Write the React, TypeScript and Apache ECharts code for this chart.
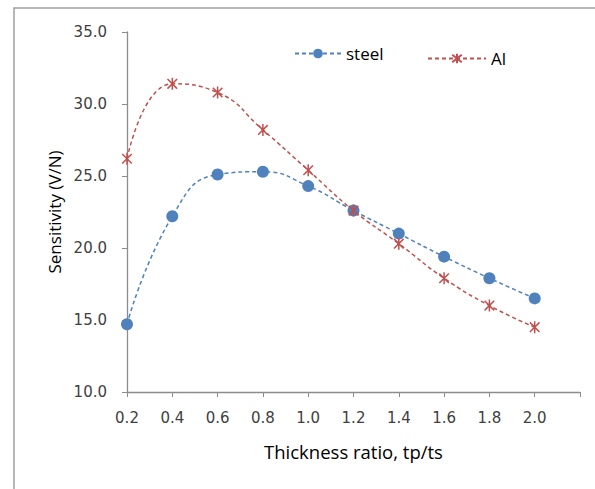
import React, { useEffect, useRef } from "react";
import * as echarts from "echarts";

const xValues = [0.2, 0.4, 0.6, 0.8, 1.0, 1.2, 1.4, 1.6, 1.8, 2.0];
const steelValues = [14.7, 22.2, 25.1, 25.3, 24.3, 22.6, 21.0, 19.4, 17.9, 16.5];
const alValues = [26.2, 31.4, 30.8, 28.2, 25.4, 22.6, 20.3, 17.9, 16.0, 14.5];

const STEEL = "#4F81BD";
const AL = "#C0504D";
const FONT = "'Open Sans', 'Liberation Sans', sans-serif";
const TICKFONT = "'DejaVu Sans', 'Open Sans', sans-serif";

export default function App() {
  const ref = useRef<HTMLDivElement>(null);
  useEffect(() => {
    if (!ref.current) return;
    const chart = echarts.init(ref.current, undefined, { renderer: "svg" });
    const star = "path://M0,-1L0,1M-0.8,-0.8L0.8,0.8M-0.8,0.8L0.8,-0.8";
    const legendText = { fontSize: 17, color: "#000", fontFamily: FONT };
    chart.setOption({
      animation: false,
      backgroundColor: "#fff",
      textStyle: { fontFamily: FONT },
      graphic: [
        {
          type: "rect",
          shape: { x: 14, y: 8, width: 700, height: 700 },
          style: { fill: "none", stroke: "#a0a0a0", lineWidth: 1.5 },
          silent: true,
        },
      ],
      legend: [
        {
          top: 45,
          left: 294,
          padding: 0,
          itemWidth: 46,
          itemHeight: 12,
          textStyle: legendText,
          data: ["steel"],
        },
        {
          top: 50,
          left: 427,
          padding: 0,
          itemWidth: 58,
          itemHeight: 12,
          textStyle: legendText,
          data: ["Al"],
        },
      ],
      grid: { left: 127, top: 32, right: 15, bottom: 97, containLabel: false },
      xAxis: {
        type: "value",
        min: 0.2,
        max: 2.2,
        interval: 0.2,
        name: "Thickness ratio, tp/ts",
        nameLocation: "middle",
        nameGap: 50,
        nameTextStyle: { fontSize: 18.5, color: "#000", fontFamily: FONT },
        axisLine: { onZero: false, lineStyle: { color: "#8c8c8c", width: 1.3 } },
        axisTick: { lineStyle: { color: "#8c8c8c" }, length: 5 },
        axisLabel: {
          fontSize: 15,
          fontFamily: TICKFONT,
          color: "#404040",
          margin: 18,
          formatter: (v: number) => (v > 2.05 ? "" : v.toFixed(1)),
        },
        splitLine: { show: false },
      },
      yAxis: {
        type: "value",
        min: 10,
        max: 35,
        interval: 5,
        name: "Sensitivity (V/N)",
        nameLocation: "middle",
        nameGap: 64,
        nameTextStyle: { fontSize: 17, color: "#000", fontFamily: FONT },
        axisLine: { show: true, lineStyle: { color: "#8c8c8c", width: 1.3 } },
        axisTick: { show: true, lineStyle: { color: "#8c8c8c" }, length: 5 },
        axisLabel: {
          fontSize: 15,
          fontFamily: TICKFONT,
          color: "#404040",
          margin: 20,
          formatter: (v: number) => v.toFixed(1),
        },
        splitLine: { show: false },
      },
      series: [
        {
          name: "steel",
          type: "line",
          smooth: 0.5,
          data: xValues.map((x, i) => [x, steelValues[i]]),
          symbol: "circle",
          symbolSize: 12,
          itemStyle: { color: STEEL },
          lineStyle: { color: STEEL, type: [4, 3], width: 1.5 },
        },
        {
          name: "Al",
          type: "line",
          smooth: 0.5,
          data: xValues.map((x, i) => [x, alValues[i]]),
          symbol: star,
          symbolSize: 12,
          symbolKeepAspect: true,
          itemStyle: { color: "transparent", borderColor: AL, borderWidth: 1.5 },
          lineStyle: { color: AL, type: [4, 3], width: 1.5 },
        },
      ],
    });
    return () => chart.dispose();
  }, []);
  return <div ref={ref} style={{ width: 595, height: 489, position: "absolute", left: 0, top: 0 }} />;
}
